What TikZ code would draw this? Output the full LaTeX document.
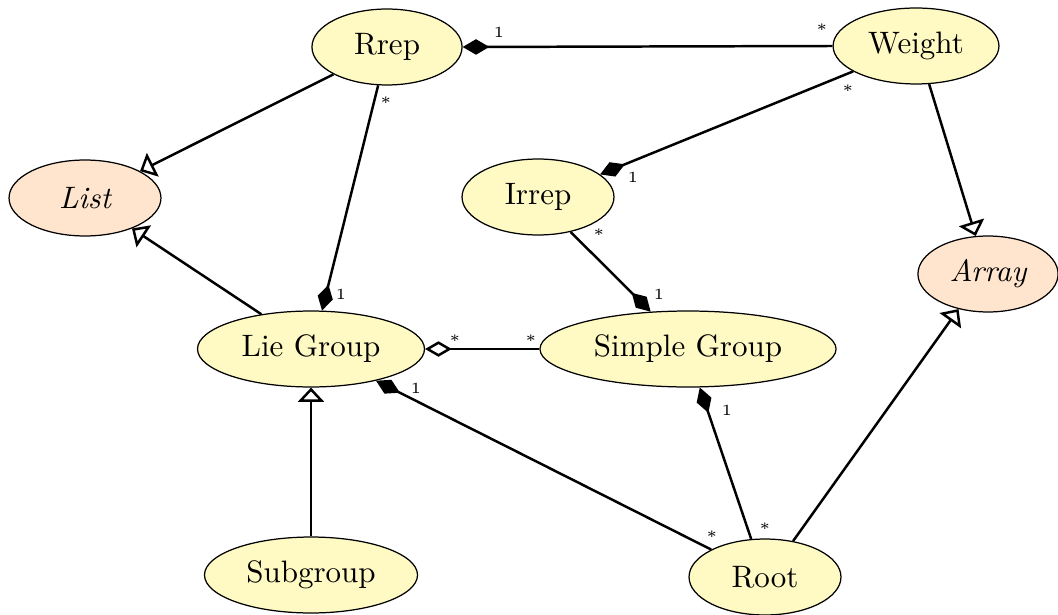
\documentclass[tikz,border=0pt]{standalone}
\usetikzlibrary{arrows.meta,shapes.geometric}
\definecolor{classfill}{RGB}{255,250,196}
\definecolor{abstractfill}{RGB}{255,229,206}
\begin{document}
\begin{tikzpicture}[x=0.3225pt,y=-0.3225pt,
  cls/.style={ellipse,draw,line width=0.4pt,fill=classfill,inner sep=0pt,minimum height=24.5pt},
  abstractcls/.style={cls,fill=abstractfill,font=\itshape},
  mult/.style={font=\tiny,inner sep=0pt},
  comp/.style={thick,{Diamond[length=8.6pt,width=5pt]}-},
  aggr/.style={thick,{Diamond[open,fill=white,length=8.6pt,width=5pt]}-},
  gen/.style={thick,-{Triangle[open,fill=white,length=4.6pt,width=8.4pt]}}]
\useasboundingbox (0,0) rectangle (1058,614);

% classes
\node[cls,minimum width=48.4pt] (rrep) at (387,47) {Rrep};
\node[cls,minimum width=53.5pt] (weight) at (916,46) {Weight};
\node[abstractcls,minimum width=49pt] (list) at (85,198) {List};
\node[cls,minimum width=49pt] (irrep) at (538,197) {Irrep};
\node[abstractcls,minimum width=45.2pt] (array) at (988,274) {Array};
\node[cls,minimum width=73.2pt] (lie) at (311,349) {Lie Group};
\node[cls,minimum width=95.5pt] (simple) at (688,349) {Simple Group};
\node[cls,minimum width=68.7pt] (sub) at (311,575) {Subgroup};
\node[cls,minimum width=49pt] (root) at (765,577) {Root};

% compositions
\draw[comp] (rrep.0) -- (weight.180);
\draw[comp] (irrep.20) -- (weight.202);
\draw[comp] (lie.74) -- (rrep.257);
\draw[comp] (simple.135) -- (irrep.313);
\draw[comp] (lie.334.5) -- (root.153);
\draw[comp] (simple.287.5) -- (root.110);

% aggregation
\draw[aggr] (lie.0) -- (simple.180);

% generalizations
\draw[gen] (rrep.207) -- (list.26);
\draw[gen] (lie.145) -- (list.327);
\draw[gen] (weight.289) -- (array.108);
\draw[gen] (sub.90) -- (lie.270);
\draw[gen] (root.52) -- (array.230);

% multiplicities
\node[mult] (m1) at (499,32) {1};
\node[mult] (m2) at (822,30) {*};
\node[mult] (m3) at (848,91) {*};
\node[mult] (m4) at (633,177) {1};
\node[mult] (m5) at (386,103) {*};
\node[mult] (m6) at (341,294) {1};
\node[mult] (m7) at (599,235) {*};
\node[mult] (m8) at (659,294) {1};
\node[mult] (m9) at (455,341) {*};
\node[mult] (m10) at (531,341) {*};
\node[mult] (m11) at (416,388) {1};
\node[mult] (m12) at (712,537) {*};
\node[mult] (m13) at (727,410) {1};
\node[mult] (m14) at (765,529) {*};
\end{tikzpicture}
\end{document}
